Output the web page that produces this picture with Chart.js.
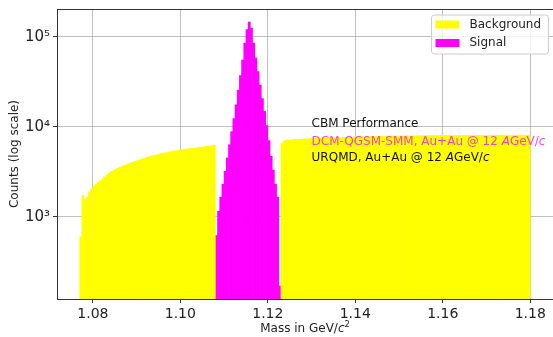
<!DOCTYPE html>
<html>
<head>
<meta charset="utf-8">
<script src="https://cdn.jsdelivr.net/npm/chart.js@4.4.1/dist/chart.umd.min.js"></script>
<style>
  html, body { margin: 0; padding: 0; background: #fff; }
  canvas { display: block; }
</style>
</head>
<body>
<canvas id="massChart" width="553" height="337"></canvas>
<script>
// invariant-mass histogram, 0.5 MeV bins
const binWidth = 0.0005

// background below the signal window
const bgLowStart = 1.077
const bgLowCounts = [
  600, 1720, 1560, 1640, 1880, 2040, 2170, 2290, 2410, 2520,
  2640, 2780, 2920, 3060, 3170, 3270, 3360, 3450, 3540, 3630,
  3720, 3800, 3890, 3970, 4050, 4130, 4210, 4290, 4370, 4450,
  4530, 4600, 4680, 4750, 4820, 4890, 4960, 5030, 5090, 5150,
  5210, 5270, 5320, 5380, 5430, 5480, 5530, 5580, 5630, 5680,
  5720, 5760, 5800, 5840, 5880, 5920, 5960, 6010, 6060, 6110,
  6160, 6220
]

// signal peak
const signalStart = 1.108
const signalCounts = [
  620, 1150, 1650, 2300, 3200, 4500, 6300, 8800, 12300, 17500,
  25500, 37000, 55000, 85000, 120000, 145000, 125000, 85000, 58000, 41000,
  29000, 20500, 14800, 10300, 7000, 4700, 3300, 2300, 1650, 170
]

// background above the signal window
const bgHighStart = 1.123
const bgHighCounts = [
  6500, 6950, 7050, 7100, 7150,
  7180, 7210, 7200, 7250, 7290, 7300, 7330, 7320, 7370, 7390,
  7400, 7440, 7430, 7470, 7480, 7510, 7500, 7530, 7560, 7550,
  7580, 7600, 7590, 7630, 7620, 7650, 7670, 7660, 7690, 7700,
  7710, 7730, 7720, 7750, 7740, 7770, 7760, 7790, 7780, 7810,
  7800, 7830, 7820, 7850, 7840, 7860, 7870, 7850, 7880, 7890,
  7870, 7900, 7910, 7890, 7920, 7910, 7930, 7940, 7920, 7950,
  7940, 7960, 7950, 7970, 7960, 7980, 7970, 7990, 7960, 7980,
  8000, 7990, 7970, 8000, 8010, 7990, 8010, 8020, 8000, 8010,
  8030, 8010, 8020, 8040, 8020, 8030, 8010, 8040, 8030, 8020,
  8040, 8050, 8030, 8040, 8020, 8050, 8040, 8030, 8050, 8040,
  8060, 8040, 8050, 8030, 8050, 8040, 8060, 8050, 8040
]

const xTicks = [1.08, 1.10, 1.12, 1.14, 1.16, 1.18]
const yTicks = [1e3, 1e4, 1e5]
const xRange = [1.0718, 1.1852]
const yRange = [122, 2.03e5]

const seriesLabels = ['Background', 'Signal']
const seriesColors = ['#ffff00', '#ff00ff']

const noteAnchor = { x: 1.13, y: 10700 }
const noteOffsets = [0, 17.5, 33.5]
const noteColors = ['#111111', 'rgba(255, 0, 255, 0.75)', '#111111']
const noteLines = [
  [{ text: 'CBM Performance' }],
  [{ text: 'DCM-QGSM-SMM, Au+Au @ 12 ' }, { text: 'A', italic: true }, { text: 'GeV/' }, { text: 'c', italic: true }],
  [{ text: 'URQMD, Au+Au @ 12 ' }, { text: 'A', italic: true }, { text: 'GeV/' }, { text: 'c', italic: true }],
]
const xTitle = [{ text: 'Mass in GeV/' }, { text: 'c', italic: true }, { text: '2', sup: true }]
const yTitle = 'Counts (log scale)'

const FONT = "'DejaVu Sans', sans-serif"
const INK = '#222222'
const GRID = 'rgba(150, 150, 150, 0.6)'
const SPINE = '#333333'

// fixed frame: plot box runs from x=57 to the right canvas edge, y=9 to y=299
const CANVAS_W = 553
const AXIS_W = 57
const AXIS_H = 38
const TOP_PAD = 9
const binPx = binWidth / (xRange[1] - xRange[0]) * (CANVAS_W - AXIS_W)

const toBins = (start, counts) =>
  counts.map((c, i) => ({ x: start + (i + 0.5) * binWidth, y: c }))

const SUPERSCRIPT = { '0': '⁰', '1': '¹', '2': '²', '3': '³', '4': '⁴', '5': '⁵', '6': '⁶', '7': '⁷', '8': '⁸', '9': '⁹' }
const powerLabel = v => '10' + String(Math.round(Math.log10(v))).split('').map(d => SUPERSCRIPT[d]).join('')

// writes a line made of plain / italic / superscript pieces
function drawRuns(ctx, runs, x, y, size, align, color) {
  const fontOf = r => `${r.italic ? 'italic ' : ''}${r.sup ? size * 0.7 : size}px ${FONT}`
  const widths = runs.map(r => { ctx.font = fontOf(r); return ctx.measureText(r.text).width })
  const total = widths.reduce((a, b) => a + b, 0)
  let cx = align === 'center' ? x - total / 2 : x
  ctx.textAlign = 'left'
  ctx.textBaseline = 'middle'
  runs.forEach((r, i) => {
    ctx.font = fontOf(r)
    ctx.fillStyle = color
    ctx.fillText(r.text, cx, r.sup ? y - size * 0.38 : y)
    cx += widths[i]
  })
}

const decorations = {
  id: 'decorations',
  afterDraw(chart) {
    const { ctx, chartArea: area, scales: { x, y } } = chart
    ctx.save()

    // top spine
    ctx.strokeStyle = SPINE
    ctx.lineWidth = 1
    ctx.beginPath()
    ctx.moveTo(area.left, area.top + 0.5)
    ctx.lineTo(area.right, area.top + 0.5)
    ctx.stroke()

    // axis titles
    drawRuns(ctx, xTitle, (area.left + area.right) / 2, 329, 12, 'center', INK)
    ctx.save()
    ctx.translate(15, (area.top + area.bottom) / 2)
    ctx.rotate(-Math.PI / 2)
    drawRuns(ctx, [{ text: yTitle }], 0, 0, 12, 'center', INK)
    ctx.restore()

    // text block in the plot
    const nx = x.getPixelForValue(noteAnchor.x)
    const ny = y.getPixelForValue(noteAnchor.y)
    noteLines.forEach((runs, i) => drawRuns(ctx, runs, nx, ny + noteOffsets[i], 12, 'left', noteColors[i]))

    // legend, upper right
    const bw = 117, bh = 39
    const bx = area.right - 4.5 - bw, by = area.top + 6
    ctx.beginPath()
    ctx.roundRect(bx, by, bw, bh, 3)
    ctx.fillStyle = 'rgba(255, 255, 255, 0.8)'
    ctx.fill()
    ctx.strokeStyle = '#cccccc'
    ctx.stroke()
    chart.data.datasets.forEach((ds, i) => {
      const cy = by + 9.5 + i * 18.5
      ctx.fillStyle = ds.backgroundColor
      ctx.fillRect(bx + 4, cy - 4, 24, 8)
      drawRuns(ctx, [{ text: ds.label }], bx + 38, cy, 12, 'left', INK)
    })

    ctx.restore()
  }
}

const barStyle = { grouped: false, barThickness: binPx, borderWidth: 0 }

new Chart(document.getElementById('massChart'), {
  type: 'bar',
  data: {
    datasets: [
      {
        label: seriesLabels[0],
        data: [...toBins(bgLowStart, bgLowCounts), ...toBins(bgHighStart, bgHighCounts)],
        backgroundColor: seriesColors[0],
        ...barStyle,
      },
      {
        label: seriesLabels[1],
        data: toBins(signalStart, signalCounts),
        backgroundColor: seriesColors[1],
        ...barStyle,
      },
    ],
  },
  options: {
    responsive: false,
    animation: false,
    devicePixelRatio: 1,
    layout: { padding: { top: TOP_PAD, right: 0, bottom: 0, left: 0 } },
    scales: {
      x: {
        type: 'linear',
        min: xRange[0],
        max: xRange[1],
        offset: false,
        z: 1,
        grid: { color: GRID, offset: false, tickColor: SPINE, tickLength: 4 },
        border: { color: SPINE, width: 1 },
        ticks: {
          font: { family: FONT, size: 14 },
          color: INK,
          padding: 3,
          maxRotation: 0,
          autoSkip: false,
          callback: v => v.toFixed(2),
        },
        afterBuildTicks: s => { s.ticks = xTicks.map(value => ({ value })) },
        afterFit: s => { s.height = AXIS_H; s.paddingLeft = 0; s.paddingRight = 0 },
      },
      y: {
        type: 'logarithmic',
        min: yRange[0],
        max: yRange[1],
        z: 1,
        grid: { color: GRID, tickColor: SPINE, tickLength: 4 },
        border: { color: SPINE, width: 1 },
        ticks: {
          font: { family: FONT, size: 15 },
          color: INK,
          padding: 3,
          autoSkip: false,
          callback: v => powerLabel(v),
        },
        afterBuildTicks: s => { s.ticks = yTicks.map(value => ({ value })) },
        afterFit: s => { s.width = AXIS_W; s.paddingTop = 0; s.paddingBottom = 0 },
      },
    },
    plugins: {
      legend: { display: false },
      tooltip: { enabled: false },
    },
  },
  plugins: [decorations],
})
</script>
</body>
</html>
